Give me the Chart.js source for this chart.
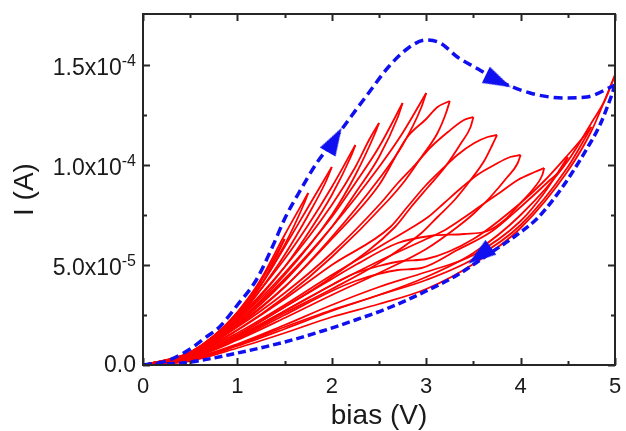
<!DOCTYPE html>
<html>
<head>
<meta charset="utf-8">
<script src="https://cdn.jsdelivr.net/npm/chart.js@4.4.1/dist/chart.umd.min.js"></script>
<style>
  html, body { margin: 0; padding: 0; background: #fff; }
  #wrap { width: 626px; height: 431px; }
</style>
</head>
<body>
<div id="wrap"><canvas id="ivChart" width="626" height="431"></canvas></div>
<script>
// current values below are in units of 1e-5 A, bias in V
var Y_UNIT = 1e-5;

var xTicks = [0, 1, 2, 3, 4, 5];
var xMinor = [0.5, 1.5, 2.5, 3.5, 4.5];
var yTicks = [0, 5, 10, 15];
var yMinor = [2.5, 7.5, 12.5];
var yTickText = ['0.0', '5.0x10', '1.0x10', '1.5x10'];
var yTickExp = ['', '-5', '-4', '-4'];

// blue dashed envelope (full 0 -> 5 V sweep and back)
var sweepUp = [[0,0],[0.25,0.2],[0.5,0.8],[0.67,1.4],[0.81,1.9],[1.0,3.0],[1.2,4.25],[1.37,5.9],[1.51,7.4],
  [1.65,8.6],[1.84,10.1],[2.0,11.1],[2.2,12.4],[2.39,13.6],[2.6,14.9],[2.81,15.85],[3.0,16.25],[3.15,16.1],
  [3.33,15.4],[3.55,14.8],[3.75,14.25],[4.1,13.6],[4.46,13.35],[4.7,13.4],[5.0,14.0]];
var sweepDown = [[5.0,14.0],[4.95,13.3],[4.84,12.0],[4.7,10.8],[4.53,9.5],[4.35,8.3],[4.17,7.3],[3.93,6.4],
  [3.68,5.6],[3.33,4.5],[3.0,3.7],[2.6,2.85],[2.25,2.25],[1.9,1.7],[1.5,1.15],[1.0,0.6],[0.5,0.15],[0,0]];

// arrows on the blue sweep: bias, current, heading (deg, clockwise from up)
var arrowX = [2.03, 3.765, 3.565];
var arrowY = [11.25, 14.2, 5.475];
var arrowAngle = [30, 116, 234];

// red minor loops, 0 -> Vmax -> 0
var loop100 = [[0,0],[0.25,0.15],[0.5,0.6],[0.75,1.4],[1.0,2.6],[0.9,2.0],[0.75,1.2],[0.5,0.5],[0.25,0.12],[0,0]];
var loop125 = [[0,0],[0.25,0.15],[0.5,0.62],[0.75,1.45],[1.0,2.65],[1.25,4.2],[1.18,3.6],[1.0,2.4],[0.75,1.3],[0.5,0.52],[0.25,0.12],[0,0]];
var loop150 = [[0,0],[0.5,0.63],[0.75,1.45],[1.0,2.6],[1.25,4.2],[1.5,6.3],[1.42,5.5],[1.25,4.0],[1.0,2.4],[0.75,1.3],[0.5,0.5],[0,0]];
var loop175 = [[0,0],[0.5,0.63],[1.0,2.6],[1.25,4.3],[1.5,6.5],[1.75,8.6],[1.7,8.0],[1.5,6.0],[1.25,4.0],[1.0,2.4],[0.5,0.55],[0,0]];
var loop200 = [[0,0],[0.5,0.63],[1.0,2.55],[1.25,4.0],[1.5,5.9],[1.75,7.9],[2.0,9.9],[1.94,9.2],[1.75,7.5],[1.5,5.5],[1.25,3.8],[1.0,2.3],[0.5,0.55],[0,0]];
var loop225 = [[0,0],[0.5,0.62],[1.0,2.45],[1.5,5.3],[1.75,7.0],[2.0,8.9],[2.25,11.0],[2.2,10.4],[2.0,8.5],[1.75,6.6],[1.5,4.9],[1.0,2.25],[0.5,0.55],[0,0]];
var loop250 = [[0,0],[0.5,0.6],[1.0,2.35],[1.5,4.9],[2.0,8.0],[2.25,9.9],[2.4,11.3],[2.5,12.1],[2.45,11.5],[2.25,9.5],[2.0,7.5],[1.5,4.5],[1.0,2.15],[0.5,0.52],[0,0]];
var loop275 = [[0,0],[0.5,0.58],[1.0,2.25],[1.5,4.6],[2.0,7.4],[2.25,9.1],[2.5,10.9],[2.75,13.1],[2.7,12.4],[2.5,10.4],[2.25,8.6],[2.0,6.9],[1.5,4.2],[1.0,2.05],[0.5,0.5],[0,0]];
var loop300 = [[0,0],[0.5,0.56],[1.0,2.15],[1.5,4.3],[2.0,6.9],[2.5,9.9],[2.75,11.6],[3.0,13.6],[2.95,12.9],[2.75,11.0],[2.5,9.3],[2.0,6.4],[1.5,3.9],[1.0,1.95],[0.5,0.48],[0,0]];
var loop325 = [[0,0],[0.5,0.54],[1.0,2.0],[1.5,3.9],[2.0,6.3],[2.5,9.0],[2.8,11.4],[3.0,12.3],[3.12,12.9],[3.25,13.2],
  [3.21,12.6],[3.12,11.6],[2.95,10.4],[2.78,9.25],[2.6,8.25],[2.0,5.4],[1.5,3.4],[1.0,1.75],[0.5,0.45],[0,0]];
var loop350 = [[0,0],[0.5,0.52],[1.0,1.9],[1.5,3.6],[2.0,5.6],[2.52,8.1],[2.7,9.1],[2.88,10.0],[3.05,10.9],[3.23,11.65],[3.4,12.25],[3.5,12.4],
  [3.47,11.9],[3.37,11.1],[3.2,9.9],[3.02,8.9],[2.84,7.9],[2.67,6.9],[2.0,4.4],[1.5,2.9],[1.0,1.5],[0.5,0.4],[0,0]];
var loop375 = [[0,0],[0.5,0.5],[1.0,1.75],[1.5,3.3],[2.0,5.0],[2.62,6.9],[2.8,7.9],[2.98,8.9],[3.16,9.75],[3.33,10.5],[3.51,11.1],[3.65,11.4],[3.75,11.5],
  [3.7,11.0],[3.62,10.25],[3.47,9.25],[3.3,8.25],[3.12,7.4],[2.95,6.6],[2.5,5.1],[2.0,3.8],[1.5,2.6],[1.0,1.35],[0.5,0.35],[0,0]];
var loop400 = [[0,0],[0.5,0.48],[1.0,1.6],[1.5,3.0],[2.0,4.5],[2.5,5.9],[2.84,6.85],[3.02,7.4],[3.19,8.1],[3.37,8.85],[3.54,9.5],[3.72,10.0],[3.89,10.4],[4.0,10.5],
  [3.97,10.1],[3.86,9.4],[3.68,8.4],[3.51,7.6],[3.33,6.9],[3.0,5.8],[2.5,4.6],[2.0,3.5],[1.5,2.35],[1.0,1.25],[0.5,0.33],[0,0]];
var loop425 = [[0,0],[0.5,0.45],[1.0,1.45],[1.5,2.7],[2.0,4.0],[2.5,5.2],[3.0,6.3],[3.2,6.75],[3.44,7.5],[3.62,8.1],[3.79,8.65],[3.97,9.25],[4.15,9.65],[4.25,9.85],
  [4.23,9.5],[4.15,8.9],[4.0,8.1],[3.83,7.25],[3.65,6.7],[3.4,6.55],[3.04,6.45],[2.7,6.1],[2.25,5.0],[2.0,4.3],[1.5,2.9],[1.0,1.5],[0.5,0.4],[0,0]];
var loop450 = [[0,0],[0.5,0.3],[1.0,1.05],[1.5,2.0],[2.0,3.0],[2.5,3.9],[3.0,4.65],[3.5,5.5],[4.0,7.2],[4.25,8.6],[4.5,10.4],
  [4.45,9.9],[4.3,9.2],[4.0,7.9],[3.7,6.7],[3.33,5.75],[2.95,4.85],[2.7,4.75],[2.25,4.2],[2.0,3.7],[1.5,2.5],[1.0,1.3],[0.5,0.35],[0,0]];
var loop475 = [[0,0],[0.5,0.25],[1.0,0.95],[1.5,1.8],[2.0,2.7],[2.5,3.5],[3.0,4.25],[3.5,5.3],[4.0,7.0],[4.5,9.9],[4.75,11.9],
  [4.7,11.6],[4.5,10.5],[4.25,9.2],[4.0,8.1],[3.5,6.3],[3.0,5.3],[2.75,5.2],[2.5,4.95],[2.2,4.5],[2.0,4.0],[1.5,2.7],[1.0,1.4],[0.5,0.38],[0,0]];
var loop500 = [[0,0],[0.5,0.2],[1.0,0.85],[1.5,1.6],[2.0,2.4],[2.5,3.05],[3.0,3.8],[3.5,5.05],[4.0,6.85],[4.5,9.7],[4.75,11.7],[5.0,14.5],
  [4.9,13.3],[4.75,12.1],[4.5,10.2],[4.0,7.5],[3.5,5.6],[3.0,4.4],[2.5,3.5],[2.0,2.75],[1.5,1.9],[1.0,1.0],[0.5,0.28],[0,0]];

var loops = [loop100, loop125, loop150, loop175, loop200, loop225, loop250, loop275, loop300,
  loop325, loop350, loop375, loop400, loop425, loop450, loop475, loop500];

var FONT = '"Liberation Sans", Arial, sans-serif';
var INK = '#1a1a1a';
var RED = '#ff0000';
var BLUE = '#0f0ff0';

function toPts(arr) {
  return arr.map(function (p) { return { x: p[0], y: p[1] * Y_UNIT }; });
}

function lineSet(arr, color, width, dash, order) {
  return {
    data: toPts(arr),
    borderColor: color,
    borderWidth: width,
    borderDash: dash,
    pointRadius: 0,
    cubicInterpolationMode: 'monotone',
    fill: false,
    order: order
  };
}

var datasets = [];
loops.forEach(function (lp) {
  // split at the turning point so the tip stays sharp; both halves run left to right
  var k = 0;
  lp.forEach(function (p, i) { if (p[0] > lp[k][0]) k = i; });
  datasets.push(lineSet(lp.slice(0, k + 1), RED, 1.8, [], 3));
  datasets.push(lineSet(lp.slice(k).reverse(), RED, 1.8, [], 3));
});
datasets.push(lineSet(sweepUp, BLUE, 3.5, [9, 5], 2));
datasets.push(lineSet(sweepDown.slice().reverse(), BLUE, 3.5, [8, 4], 2));

// arrow head sprite
var arrowImg = document.createElement('canvas');
arrowImg.width = 28; arrowImg.height = 28;
(function () {
  var c = arrowImg.getContext('2d');
  c.fillStyle = BLUE;
  c.beginPath();
  c.moveTo(14, 0); c.lineTo(23, 28); c.lineTo(5, 28); c.closePath();
  c.fill();
})();

datasets.push({
  data: arrowX.map(function (v, i) { return { x: v, y: arrowY[i] * Y_UNIT }; }),
  showLine: false,
  pointStyle: arrowImg,
  pointRadius: 10,
  pointRotation: arrowAngle,
  order: 1
});

var framePlugin = {
  id: 'frame',
  afterDraw: function (chart) {
    var ctx = chart.ctx, a = chart.chartArea, xs = chart.scales.x, ys = chart.scales.y;
    ctx.save();
    ctx.strokeStyle = '#262626';
    ctx.lineWidth = 2;
    ctx.strokeRect(a.left, a.top, a.right - a.left, a.bottom - a.top);
    function seg(x1, y1, x2, y2) { ctx.beginPath(); ctx.moveTo(x1, y1); ctx.lineTo(x2, y2); ctx.stroke(); }
    xTicks.concat(xMinor).forEach(function (v, i) {
      var len = i < xTicks.length ? 7 : 4;
      var px = Math.round(xs.getPixelForValue(v)) + 0.5;
      seg(px, a.bottom, px, a.bottom - len);
      seg(px, a.top, px, a.top + len);
    });
    yTicks.concat(yMinor).forEach(function (v, i) {
      var len = i < yTicks.length ? 7 : 4;
      var py = Math.round(ys.getPixelForValue(v * Y_UNIT)) + 0.5;
      seg(a.left, py, a.left + len, py);
      seg(a.right, py, a.right - len, py);
    });
    // y tick labels with superscript exponent
    ctx.fillStyle = INK;
    ctx.textAlign = 'right';
    ctx.textBaseline = 'alphabetic';
    yTicks.forEach(function (v, i) {
      var py = ys.getPixelForValue(v * Y_UNIT);
      var right = a.left - 7;
      var base = py + 7;
      if (yTickExp[i]) {
        ctx.font = '16px ' + FONT;
        ctx.fillText(yTickExp[i], right, py + 0.5);
        right -= ctx.measureText(yTickExp[i]).width;
        base = py + 10;
      }
      ctx.font = '23px ' + FONT;
      ctx.fillText(yTickText[i], right, base);
    });
    ctx.restore();
  }
};

new Chart(document.getElementById('ivChart').getContext('2d'), {
  type: 'line',
  data: { datasets: datasets },
  options: {
    responsive: false,
    animation: false,
    layout: { padding: { left: 0, right: 8, top: 14, bottom: 0 } },
    plugins: { legend: { display: false }, tooltip: { enabled: false } },
    scales: {
      x: {
        type: 'linear',
        min: 0,
        max: 5,
        grid: { display: false },
        border: { display: false },
        afterBuildTicks: function (s) { s.ticks = xTicks.map(function (v) { return { value: v }; }); },
        afterFit: function (s) { s.height = 66; },
        ticks: { color: INK, font: { family: FONT, size: 22 }, padding: 1 },
        title: { display: true, text: 'bias (V)', color: INK, font: { family: FONT, size: 28, lineHeight: 1.05 }, padding: { top: 0, bottom: 0 } }
      },
      y: {
        type: 'linear',
        min: 0,
        max: 17.55 * Y_UNIT,
        grid: { display: false },
        border: { display: false },
        afterBuildTicks: function (s) { s.ticks = yTicks.map(function (v) { return { value: v * Y_UNIT }; }); },
        afterFit: function (s) { s.width = 143; },
        ticks: { display: false },
        title: { display: true, text: 'I (A)', color: INK, font: { family: FONT, size: 28 }, padding: { top: 8, bottom: 0 } }
      }
    }
  },
  plugins: [framePlugin]
});
</script>
</body>
</html>
